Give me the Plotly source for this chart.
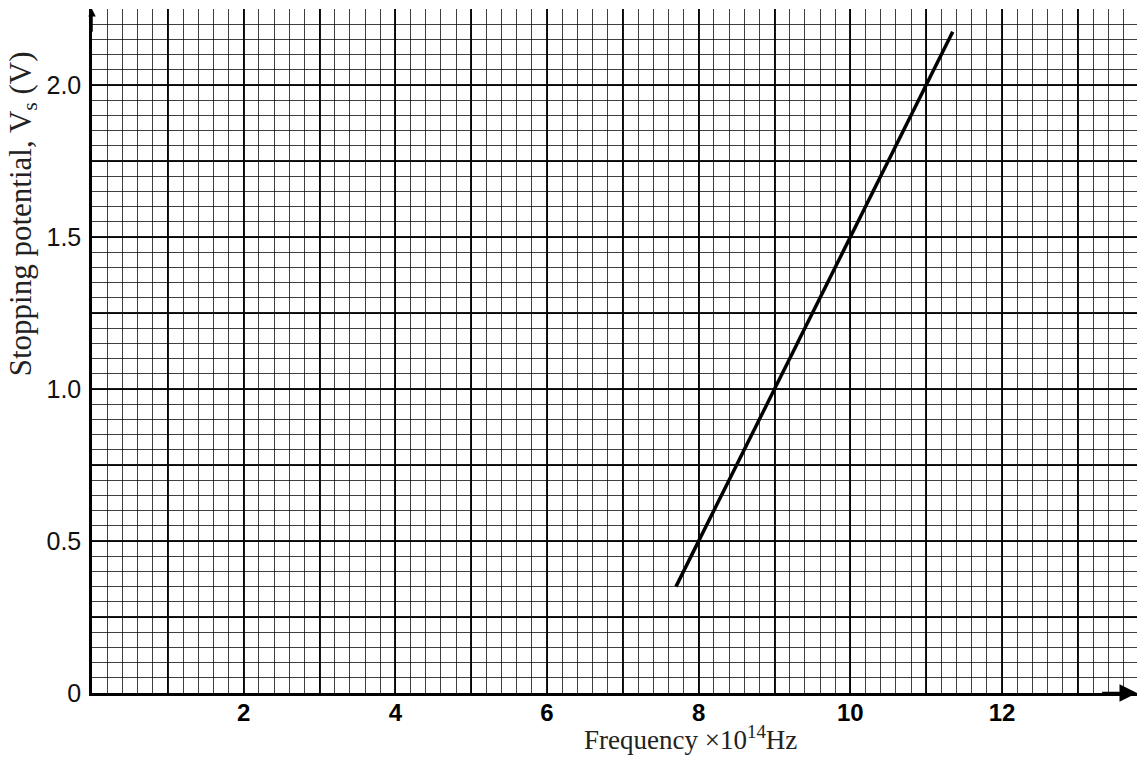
import plotly.graph_objects as go

# data
frequency = [7.7, 11.35]            # x 10^14 Hz
stopping_potential = [0.35, 2.175]  # V

x_tick_vals = [0, 1, 2, 3, 4, 5, 6, 7, 8, 9, 10, 11, 12, 13]
x_tick_text = ["", "", "2", "", "4", "", "6", "", "8", "", "10", "", "12", ""]
y_tick_vals = [0, 0.25, 0.5, 0.75, 1.0, 1.25, 1.5, 1.75, 2.0]
y_tick_text = ["0", "", "0.5", "", "1.0", "", "1.5", "", "2.0"]

fig = go.Figure()
fig.add_trace(go.Scatter(
    x=frequency, y=stopping_potential, mode="lines",
    line=dict(color="black", width=3.5), showlegend=False, hoverinfo="skip"))

grid_major = "rgba(0,0,0,0.9)"
grid_minor = "rgba(0,0,0,0.75)"

fig.update_layout(
    width=1141, height=759,
    margin=dict(l=92, r=4, t=9, b=66),
    paper_bgcolor="white", plot_bgcolor="white",
    font=dict(family="Liberation Sans", size=20, color="black"),
    xaxis=dict(
        range=[0, 13.78], tickmode="array", tickvals=x_tick_vals, ticktext=x_tick_text,
        showgrid=True, gridcolor=grid_major, gridwidth=1.8,
        minor=dict(dtick=0.2, showgrid=True, gridcolor=grid_minor, gridwidth=1.2),
        showline=True, linecolor="black", linewidth=2.5, zeroline=False,
        ticks="", ticklabelstandoff=-4,
        tickfont=dict(family="Liberation Sans", size=24, color="black", weight="bold"),
    ),
    yaxis=dict(
        range=[0, 2.25], tickmode="array", tickvals=y_tick_vals, ticktext=y_tick_text,
        showgrid=True, gridcolor=grid_major, gridwidth=1.8,
        minor=dict(dtick=0.05, showgrid=True, gridcolor=grid_minor, gridwidth=1.2),
        showline=True, linecolor="black", linewidth=2.5, zeroline=False,
        ticks="", ticklabelstandoff=3,
        tickfont=dict(family="Liberation Sans", size=25, color="#111"),
    ),
    annotations=[
        dict(text="Stopping potential, V<sub>s</sub> (V)", textangle=-90,
             xref="paper", yref="paper", x=-0.066, y=0.70, xanchor="center", yanchor="middle",
             showarrow=False, font=dict(family="Liberation Serif", size=31, color="#222")),
        dict(text="Frequency \u00d710<sup>14</sup>Hz",
             xref="paper", yref="paper", x=0.573, y=-0.0936, xanchor="center", yanchor="bottom",
             showarrow=False, font=dict(family="Liberation Serif", size=27, color="#222")),
        dict(x=13.78, y=0, ax=13.3, ay=0, xref="x", yref="y", axref="x", ayref="y",
             text="", showarrow=True, arrowhead=2, arrowsize=1.4, arrowwidth=2.5, arrowcolor="black"),
        dict(x=0, y=2.25, ax=0, ay=2.17, xref="x", yref="y", axref="x", ayref="y",
             text="", showarrow=True, arrowhead=2, arrowsize=1, arrowwidth=1.5, arrowcolor="black"),
    ],
)

fig.write_html("out.html", config={"displayModeBar": False},
               post_script="document.body.style.margin='0';")
